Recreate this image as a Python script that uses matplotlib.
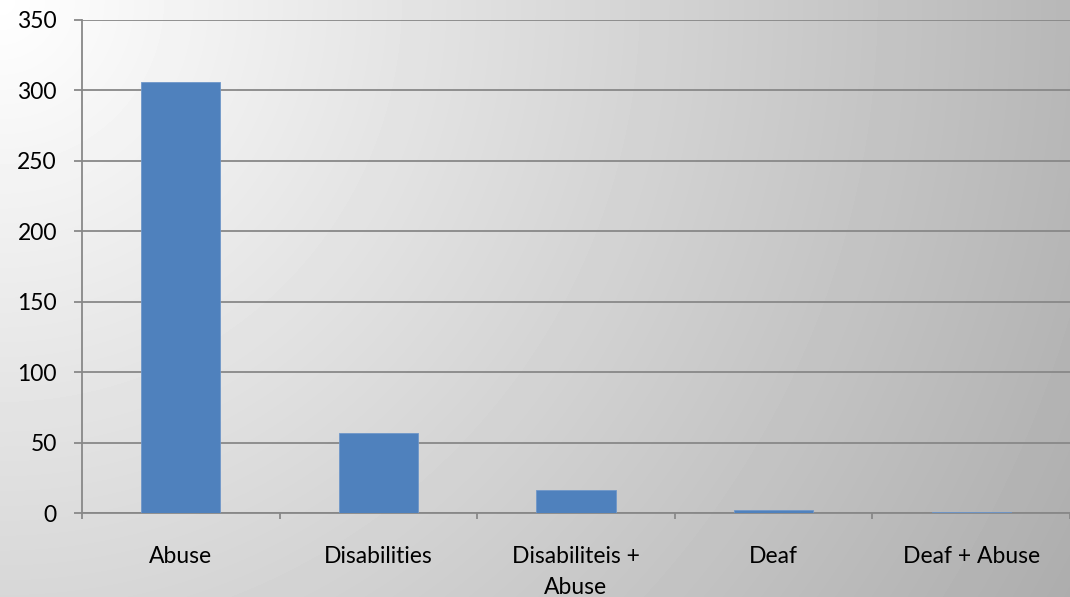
import numpy as np
import matplotlib.pyplot as plt

# data
categories = ['Abuse', 'Disabilities', 'Disabiliteis +\nAbuse', 'Deaf', 'Deaf + Abuse']
values = [306, 57, 16, 2, 1]
y_ticks = [0, 50, 100, 150, 200, 250, 300, 350]

plt.rcParams['font.family'] = ['Lato', 'DejaVu Sans']

W, H = 1070, 597
fig = plt.figure(figsize=(W / 100, H / 100), dpi=100)

# radial grey gradient from the top-left corner
bg = fig.add_axes([0, 0, 1, 1], zorder=-2)
yy, xx = np.mgrid[0:H, 0:W]
dist = np.sqrt(xx ** 2 + yy ** 2)
shade = np.clip(255 - 0.067 * dist, 0, 255) / 255.0
bg.imshow(shade, cmap='gray', vmin=0, vmax=1, aspect='auto', interpolation='bilinear')
bg.axis('off')

ax = fig.add_axes([82 / W, 1 - 513 / H, (W - 82) / W, (513 - 20) / H])
ax.patch.set_alpha(0)

x = np.arange(len(categories))
ax.bar(x, values, width=0.4, color='#4F81BD', edgecolor='#6f97c9', linewidth=0.6, zorder=3)

ax.set_xlim(-0.5, len(categories) - 0.5)
ax.set_ylim(0, 350)
ax.set_yticks(y_ticks)
ax.set_yticklabels([str(v) for v in y_ticks], fontsize=16.5)
ax.yaxis.grid(True, color='#888888', linewidth=1.3, zorder=0)
ax.set_axisbelow(True)

ax.set_xticks(x)
ax.set_xticklabels(categories, fontsize=16.5, va='top', linespacing=1.55)
ax.tick_params(axis='x', length=0, pad=24)
ax.tick_params(axis='y', length=6, width=1.3, color='#888888', pad=12)

# category separator ticks on the x axis
ax.set_xticks(np.arange(len(categories) + 1) - 0.5, minor=True)
ax.tick_params(axis='x', which='minor', length=4, width=1.3, color='#888888')

for side in ['top', 'right']:
    ax.spines[side].set_visible(False)
for side in ['left', 'bottom']:
    ax.spines[side].set_color('#888888')
    ax.spines[side].set_linewidth(1.3)

fig.savefig('out.png', dpi=100)
